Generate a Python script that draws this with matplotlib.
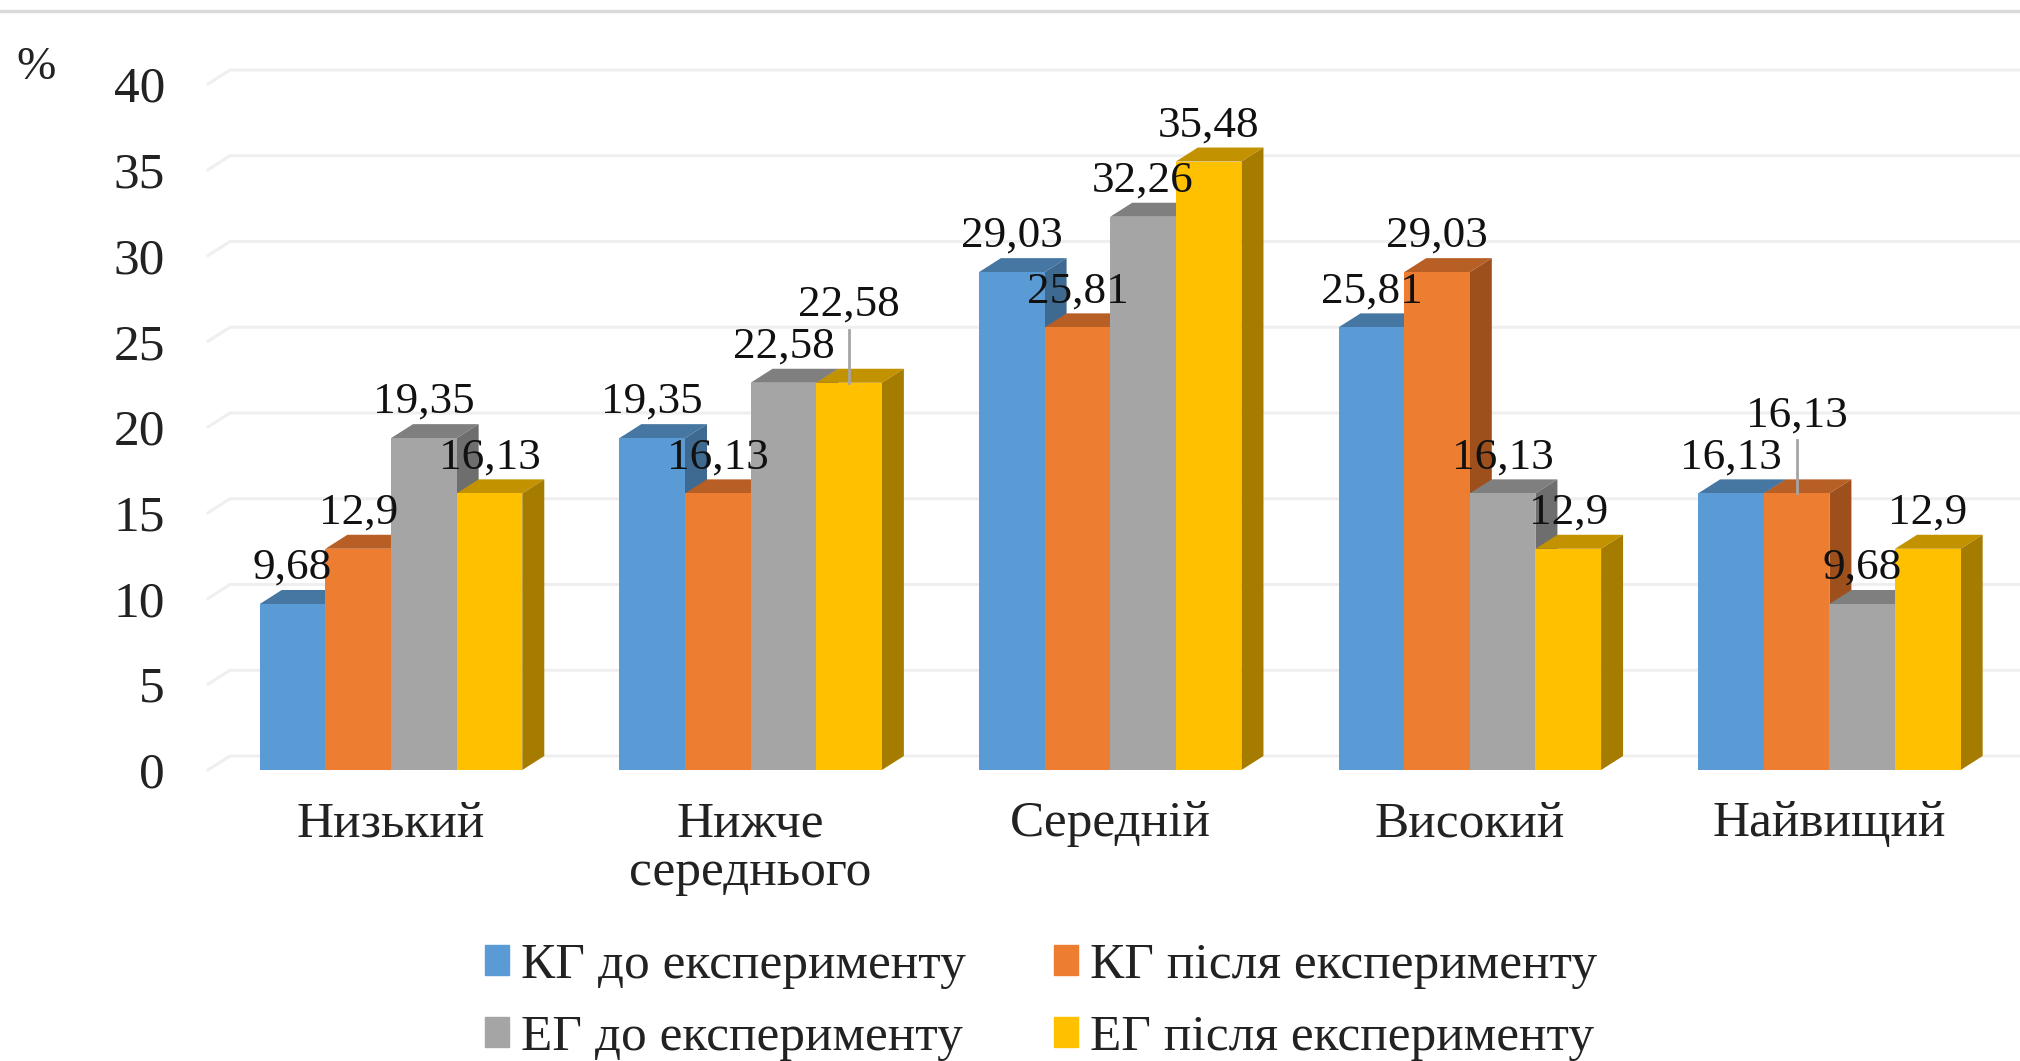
import matplotlib
matplotlib.use("Agg")
import matplotlib.pyplot as plt
from matplotlib.patches import Patch

plt.rcParams['font.family'] = ['Liberation Serif', 'DejaVu Serif']

categories = ["Низький", "Нижче\nсереднього", "Середній", "Високий", "Найвищий"]
series_names = ["КГ до експерименту", "КГ після експерименту", "ЕГ до експерименту", "ЕГ після експерименту"]

kg_before = [9.68, 19.35, 29.03, 25.81, 16.13]
kg_after = [12.9, 16.13, 25.81, 29.03, 16.13]
eg_before = [19.35, 22.58, 32.26, 16.13, 9.68]
eg_after = [16.13, 22.58, 35.48, 12.9, 12.9]
series = [kg_before, kg_after, eg_before, eg_after]

y_ticks = [0, 5, 10, 15, 20, 25, 30, 35, 40]

front_colors = ["#5B9BD5", "#ED7D31", "#A5A5A5", "#FFC000"]
top_colors = ["#4676A2", "#B85F25", "#7F7F7F", "#C29200"]
side_colors = ["#3E6A92", "#9E501C", "#6E6E6E", "#A67C00"]

# labels that sit higher, with a leader line (group, series)
lifted = [(1, 3), (4, 1)]

W, H = 2020, 1061
fig = plt.figure(figsize=(W / 100, H / 100), dpi=100)

# axes box in pixels: value 0 at y=770, value 40 at y=84
left, right, top, bottom = 208, 2020, 84, 770
ax = fig.add_axes([left / W, 1 - bottom / H, (right - left) / W, (bottom - top) / H])
ax.set_xlim(-0.509, 4.53)
ax.set_ylim(0, 40)
ax.patch.set_alpha(0)
for s in ax.spines.values():
    s.set_visible(False)

bar_w = 0.1825
depth_x = 22 / 359.7
depth_y = 14 / 17.15

# back wall gridlines
x0 = ax.get_xlim()[0]
x1 = ax.get_xlim()[1]
for v in y_ticks:
    ax.plot([x0, x0 + depth_x, x1], [v, v + depth_y, v + depth_y], color="#EFEFEF", lw=2.2,
            zorder=1, clip_on=False, solid_joinstyle="miter")

z = 2
for g in range(len(categories)):
    for i, vals in enumerate(series):
        v = vals[g]
        xl = g + (i - 2) * bar_w
        xr = xl + bar_w
        # top and side faces, then the front
        ax.fill([xl, xl + depth_x, xr + depth_x, xr], [v, v + depth_y, v + depth_y, v],
                color=top_colors[i], lw=0, zorder=z, clip_on=False)
        ax.fill([xr, xr + depth_x, xr + depth_x, xr], [0, depth_y, v + depth_y, v],
                color=side_colors[i], lw=0, zorder=z, clip_on=False)
        ax.bar(xl, v, bar_w, align="edge", color=front_colors[i], lw=0, zorder=z + 0.5)
        z += 1

# data labels go over all bars
for g in range(len(categories)):
    for i, vals in enumerate(series):
        v = vals[g]
        xc = g + (i - 1.5) * bar_w
        lift = 56 if (g, i) in lifted else 26
        if (g, i) in lifted:
            ax.plot([xc, xc], [v, v + 53 / 17.15], color="#A5A5A5", lw=2, zorder=z)
        ax.annotate(str(v).replace(".", ","), (xc, v), xytext=(0, lift), textcoords="offset points",
                    ha="center", va="center", fontsize=32.5, color="#111111", zorder=z + 1)

ax.set_yticks(y_ticks)
ax.set_xticks(range(len(categories)))
ax.set_xticklabels(categories, linespacing=1.08)
ax.tick_params(axis="y", length=0, pad=31, labelsize=37, labelcolor="#222222")
ax.tick_params(axis="x", length=0, pad=22, labelsize=37, labelcolor="#222222")

fig.text(36 / W, 1 - 68 / H, "%", fontsize=34, ha="center", va="center", color="#222222")

# top edge of the screenshot
fig.add_artist(plt.Line2D([0, 1], [1 - 11 / H, 1 - 11 / H], color="#DADADA", lw=2.5))

order = [0, 2, 1, 3]
handles = [Patch(color=front_colors[i]) for i in order]
labels = [series_names[i] for i in order]
fig.legend(handles, labels, ncol=2, frameon=False, fontsize=37, loc="center",
           bbox_to_anchor=(1041 / W, 1 - 1002 / H), handlelength=0.48, handleheight=0.5,
           handletextpad=0.23, columnspacing=1.7, labelspacing=0.5, labelcolor="#222222",
           borderpad=0)

fig.savefig("out.png", dpi=100)
